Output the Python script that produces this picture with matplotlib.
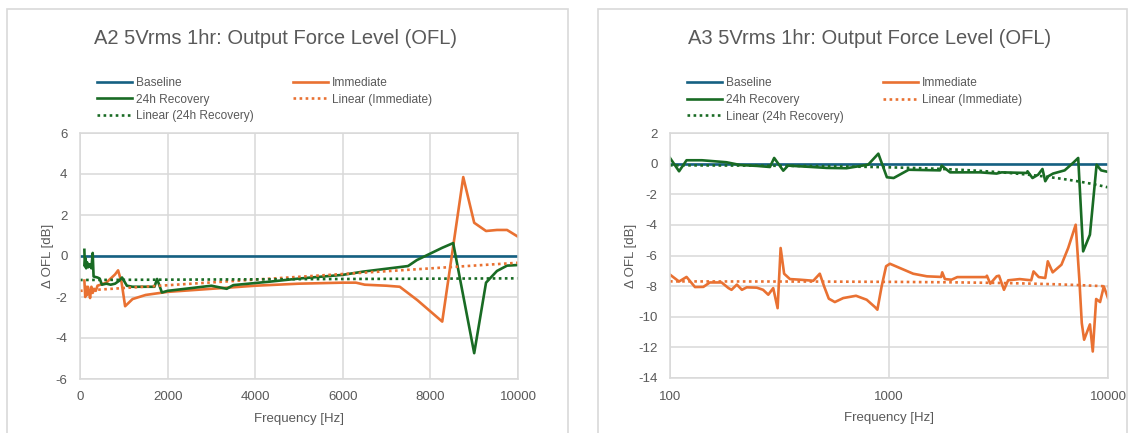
import numpy as np
import matplotlib
matplotlib.use('Agg')
import matplotlib.pyplot as plt
from matplotlib.patches import Rectangle

plt.rcParams['font.family'] = ['Liberation Sans', 'DejaVu Sans']
plt.rcParams['axes.unicode_minus'] = False

# colours (Office theme)
BLUE = '#156082'
ORANGE = '#E97132'
GREEN = '#196B24'
GRID = '#d9d9d9'
TXT = '#595959'

# ---- A2 (linear frequency axis) ----
a2_base_f = [20, 10000]
a2_base = [0, 0]

a2_imm_f = [100, 120, 140, 160, 180, 200, 230, 260, 290, 320, 360, 400, 600, 800, 870,
            950, 1030, 1200, 1500, 2000, 3000, 4000, 5000, 6000, 6300, 6500, 7000, 7300,
            7700, 8270, 8750, 9000, 9270, 9520, 9750, 10000]
a2_imm = [-1.2, -2.0, -1.5, -1.9, -1.5, -1.7, -2.05, -1.5, -1.8, -1.6, -1.7, -1.45, -1.3, -0.9, -0.7,
          -1.3, -2.45, -2.1, -1.9, -1.75, -1.6, -1.45, -1.35, -1.3, -1.3, -1.4, -1.45, -1.5,
          -2.15, -3.2, 3.85, 1.62, 1.22, 1.27, 1.27, 0.94]

a2_rec_f = [100, 110, 125, 140, 160, 190, 220, 260, 290, 310, 400, 450, 500, 600, 700, 800,
            900, 960, 1070, 1200, 1700, 1760, 1870, 2000, 3000, 3350, 3500, 4340, 5000, 6000,
            6470, 7490, 7690, 8270, 8520, 9000, 9270, 9520, 9750, 10000]
a2_rec = [0.3, -0.5, -0.1, -0.6, -0.3, -0.55, -0.4, -0.6, 0.15, -1.0, -1.05, -1.1, -1.4, -1.35,
          -1.4, -1.35, -1.2, -1.05, -1.45, -1.5, -1.5, -1.12, -1.78, -1.7, -1.45, -1.6, -1.42,
          -1.25, -1.1, -0.92, -0.76, -0.49, -0.2, 0.4, 0.63, -4.74, -1.3, -0.73, -0.47, -0.44]

# linear trendlines (intercept, slope per Hz)
a2_imm_trend = (-1.70, 1.37e-4)
a2_rec_trend = (-1.17, 0.08e-4)

# ---- A3 (log frequency axis) ----
a3_base_f = [100, 10000]
a3_base = [0, 0]

a3_imm_f = [100, 110, 119, 130, 142, 152, 172, 185, 191, 202, 213, 224, 249, 266, 281, 296,
            310, 320, 332, 353, 392, 451, 483, 505, 531, 566, 618, 707, 791, 863, 885, 926,
            970, 1010, 1290, 1490, 1730, 1750, 1800, 1930, 2050, 2770, 2800, 2900, 3100, 3180,
            3350, 3500, 3950, 4460, 4570, 4830, 5170, 5310, 5590, 6130, 6580, 7120, 7400, 7590,
            7780, 8270, 8520, 8830, 9200, 9570, 10000]
a3_imm = [-7.25, -7.7, -7.4, -8.06, -8.05, -7.76, -7.76, -8.13, -8.24, -7.9, -8.24, -8.08, -8.1,
          -8.24, -8.56, -8.13, -9.44, -5.51, -7.19, -7.54, -7.58, -7.65, -7.19, -8.0, -8.82, -9.04,
          -8.78, -8.63, -8.89, -9.37, -9.54, -8.0, -6.7, -6.54, -7.19, -7.36, -7.4, -7.1, -7.54,
          -7.58, -7.41, -7.41, -7.32, -7.84, -7.36, -7.32, -8.24, -7.62, -7.54, -7.62, -7.04,
          -7.41, -7.47, -6.38, -7.1, -6.6, -5.51, -3.99, -7.58, -10.41, -11.5, -10.5, -12.27,
          -8.84, -9.04, -8.02, -8.78]

a3_rec_f = [100, 110, 119, 140, 181, 209, 250, 286, 299, 329, 346, 420, 520, 640, 803, 894,
            978, 1050, 1230, 1710, 1740, 1900, 2610, 3100, 3270, 4270, 4290, 4520, 4800, 5020,
            5170, 5330, 5610, 6340, 6930, 7310, 7700, 8270, 8870, 9300, 10000]
a3_rec = [0.37, -0.5, 0.22, 0.22, 0.09, -0.09, -0.15, -0.22, 0.37, -0.46, -0.13, -0.2, -0.28,
          -0.3, -0.07, 0.65, -0.89, -0.94, -0.4, -0.44, -0.13, -0.57, -0.57, -0.65, -0.57, -0.61,
          -0.5, -0.94, -0.72, -0.35, -1.15, -0.83, -0.65, -0.44, 0.05, 0.37, -5.73, -4.64, -0.07,
          -0.44, -0.54]

a3_imm_trend = (-7.687, -3.33e-5)
a3_rec_trend = (-0.095, -1.455e-4)

W, H = 1134, 433
fig = plt.figure(figsize=(W / 100, H / 100), dpi=100)

# chart frames
for x0, w in [(7, 561), (598, 529)]:
    fig.patches.append(Rectangle((x0 / W, -0.1), w / W, 1.1 - 9 / H, transform=fig.transFigure,
                                 fill=False, edgecolor=GRID, lw=1.2))


def draw(ax, title, title_x, bf, b, f_imm, imm, f_rec, rec, t_imm, t_rec, xs):
    lw = 1.9
    h_base, = ax.plot(bf, b, color=BLUE, lw=lw, label='Baseline')
    h_imm, = ax.plot(f_imm, imm, color=ORANGE, lw=lw, label='Immediate')
    h_rec, = ax.plot(f_rec, rec, color=GREEN, lw=lw, label='24h Recovery')
    h_ti, = ax.plot(xs, t_imm[0] + t_imm[1] * xs, color=ORANGE, lw=1.9,
                    linestyle=(0, (1, 1.3)), label='Linear (Immediate)')
    h_tr, = ax.plot(xs, t_rec[0] + t_rec[1] * xs, color=GREEN, lw=1.9,
                    linestyle=(0, (1, 1.3)), label='Linear (24h Recovery)')
    ax.grid(True, color=GRID, lw=1.1)
    ax.set_axisbelow(True)
    for s in ax.spines.values():
        s.set_color(GRID)
        s.set_linewidth(1.1)
    ax.tick_params(length=0, labelsize=9.5, labelcolor=TXT, pad=9)
    ax.set_xlabel('Frequency [Hz]', fontsize=9.5, color=TXT, labelpad=7)
    ax.set_ylabel('Δ OFL [dB]', fontsize=9.5, color=TXT, labelpad=1)
    fig.text(title_x / W, 1 - 38 / H, title, fontsize=14.5, color=TXT,
             ha='center', va='center')
    ax.legend(handles=[h_base, h_rec, h_tr, h_imm, h_ti], ncol=2, frameon=False,
              loc='upper left', bbox_to_anchor=(12 / 438, 1 + 61 / 246), fontsize=8.6,
              handlelength=2.95, handletextpad=0.35, columnspacing=3.25,
              labelspacing=0.4, labelcolor=TXT, borderaxespad=0)


ax1 = fig.add_axes([80 / W, 1 - 379 / H, 438 / W, 246 / H])
draw(ax1, 'A2 5Vrms 1hr: Output Force Level (OFL)', 276, a2_base_f, a2_base,
     a2_imm_f, a2_imm, a2_rec_f, a2_rec, a2_imm_trend, a2_rec_trend,
     np.linspace(0, 10000, 50))
ax1.set_xlim(0, 10000)
ax1.set_ylim(-6, 6)
ax1.set_xticks(np.arange(0, 10001, 2000))
ax1.set_yticks(np.arange(-6, 7, 2))

ax2 = fig.add_axes([670 / W, 1 - 378 / H, 438 / W, 245 / H])
draw(ax2, 'A3 5Vrms 1hr: Output Force Level (OFL)', 870, a3_base_f, a3_base,
     a3_imm_f, a3_imm, a3_rec_f, a3_rec, a3_imm_trend, a3_rec_trend,
     np.logspace(2, 4, 200))
ax2.set_xscale('log')
ax2.set_xlim(100, 10000)
ax2.set_ylim(-14, 2)
ax2.set_xticks([100, 1000, 10000])
ax2.set_xticklabels(['100', '1000', '10000'])
ax2.minorticks_off()
ax2.set_yticks(np.arange(-14, 3, 2))

fig.savefig('out.png', dpi=100)
